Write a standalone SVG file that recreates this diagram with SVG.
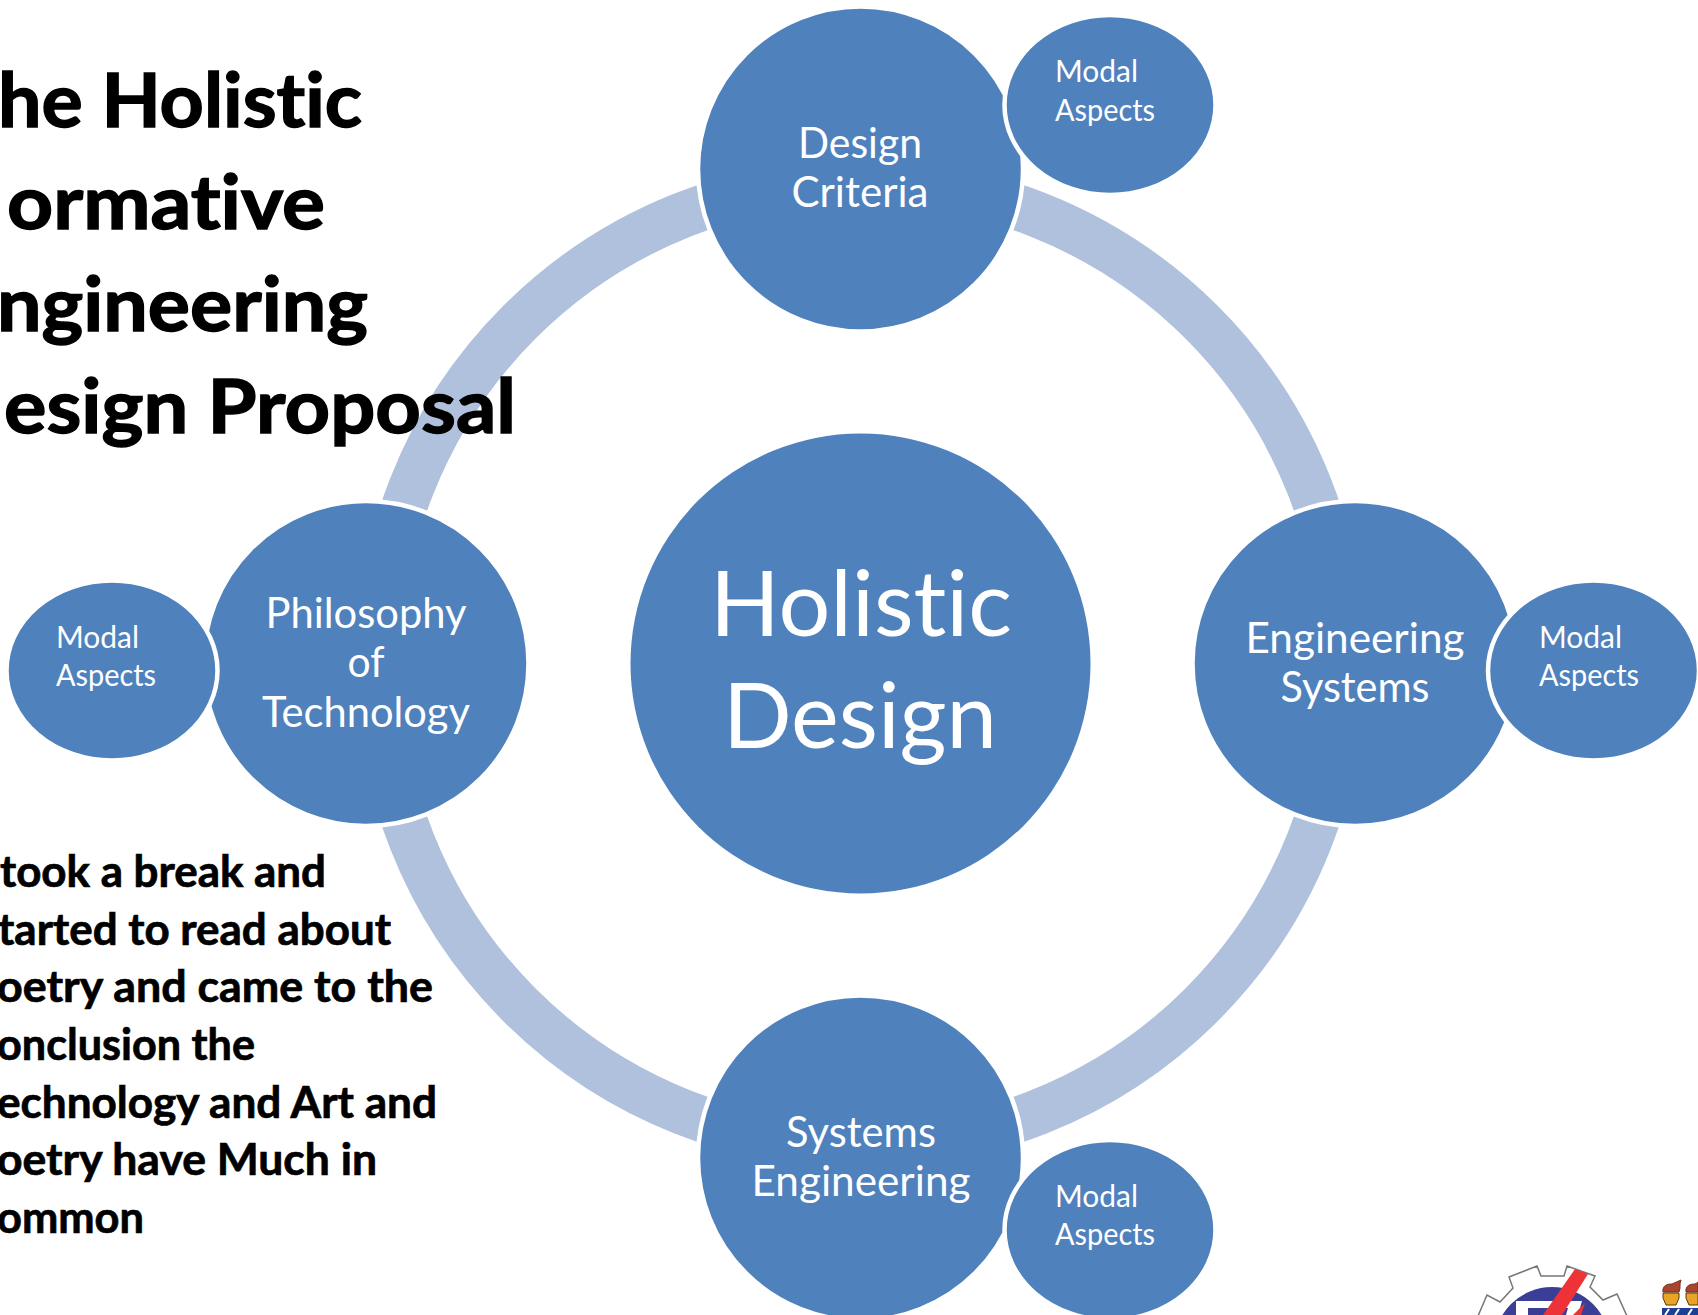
<svg xmlns="http://www.w3.org/2000/svg" width="1698" height="1315" viewBox="0 0 1698 1315">
<style>
text{font-variant-ligatures:none}
.n{fill:#4f81bd;stroke:#fff;stroke-width:4.5}
.t{fill:#fff;font-family:Lato,"Liberation Sans",sans-serif;text-anchor:middle}
.m{font-size:31px;text-anchor:start}
.s{font-size:43px}
.h{fill:#000;font-family:Lato,"Liberation Sans",sans-serif;font-weight:700;stroke:#000}
.h1{font-size:74px;stroke-width:1.4}
.h2{font-size:43px;stroke-width:.7}
.fl{fill:#a8452c;stroke:#7a2e20;stroke-width:1}
.cup{fill:#e9a326;stroke:#5a3a10;stroke-width:1}
</style>
<g id="connectors"><circle cx="860.5" cy="663.5" r="482.5" fill="none" stroke="#b0c1dd" stroke-width="46"/></g>
<g id="center"><circle cx="860.5" cy="663.5" r="230" fill="#4f81bd"/><text class="t" font-size="92" x="861" y="636" textLength="302" lengthAdjust="spacingAndGlyphs">Holistic</text><text class="t" font-size="92" x="860" y="748" textLength="274" lengthAdjust="spacingAndGlyphs">Design</text></g>
<g id="top"><circle class="n" cx="860.5" cy="169" r="162.5"/><text class="t s" x="860" y="158" textLength="124" lengthAdjust="spacingAndGlyphs">Design</text><text class="t s" x="860" y="207" textLength="137" lengthAdjust="spacingAndGlyphs">Criteria</text></g>
<g id="right"><circle class="n" cx="1355" cy="663.5" r="162.5"/><text class="t s" x="1355" y="653" textLength="219" lengthAdjust="spacingAndGlyphs">Engineering</text><text class="t s" x="1355" y="702" textLength="149" lengthAdjust="spacingAndGlyphs">Systems</text></g>
<g id="bottom"><circle class="n" cx="860.5" cy="1158" r="162.5"/><text class="t s" x="861" y="1147" textLength="150" lengthAdjust="spacingAndGlyphs">Systems</text><text class="t s" x="861" y="1196" textLength="219" lengthAdjust="spacingAndGlyphs">Engineering</text></g>
<g id="left"><circle class="n" cx="366" cy="663.5" r="162.5"/><text class="t s" x="366" y="628" textLength="201" lengthAdjust="spacingAndGlyphs">Philosophy</text><text class="t s" x="366" y="677" textLength="37" lengthAdjust="spacingAndGlyphs">of</text><text class="t s" x="366" y="727" textLength="208" lengthAdjust="spacingAndGlyphs">Technology</text></g>
<g id="modal-top"><ellipse class="n" cx="1110" cy="105" rx="105.5" ry="90"/><text class="t m" x="1055" y="82" textLength="83" lengthAdjust="spacingAndGlyphs">Modal</text><text class="t m" x="1055" y="121" textLength="100" lengthAdjust="spacingAndGlyphs">Aspects</text></g>
<g id="modal-right"><ellipse class="n" cx="1593.5" cy="670.5" rx="105.5" ry="90"/><text class="t m" x="1539" y="648" textLength="83" lengthAdjust="spacingAndGlyphs">Modal</text><text class="t m" x="1539" y="686" textLength="100" lengthAdjust="spacingAndGlyphs">Aspects</text></g>
<g id="modal-bottom"><ellipse class="n" cx="1110" cy="1230" rx="105.5" ry="90"/><text class="t m" x="1055" y="1207" textLength="83" lengthAdjust="spacingAndGlyphs">Modal</text><text class="t m" x="1055" y="1245" textLength="100" lengthAdjust="spacingAndGlyphs">Aspects</text></g>
<g id="modal-left"><ellipse class="n" cx="112" cy="670.5" rx="105.5" ry="90"/><text class="t m" x="56" y="648" textLength="83" lengthAdjust="spacingAndGlyphs">Modal</text><text class="t m" x="56" y="686" textLength="100" lengthAdjust="spacingAndGlyphs">Aspects</text></g>
<g id="title"><text class="h h1" x="-2" y="127" textLength="364" lengthAdjust="spacingAndGlyphs">he Holistic</text><text class="h h1" x="7" y="229" textLength="318" lengthAdjust="spacingAndGlyphs">ormative</text><text class="h h1" x="-3" y="331" textLength="371" lengthAdjust="spacingAndGlyphs">ngineering</text><text class="h h1" x="4" y="433" textLength="512" lengthAdjust="spacingAndGlyphs">esign Proposal</text></g>
<g id="note"><text class="h h2" x="0" y="887" textLength="326" lengthAdjust="spacingAndGlyphs">took a break and</text><text class="h h2" x="-2" y="945" textLength="393" lengthAdjust="spacingAndGlyphs">tarted to read about</text><text class="h h2" x="-3" y="1002" textLength="436" lengthAdjust="spacingAndGlyphs">oetry and came to the</text><text class="h h2" x="-3" y="1060" textLength="258" lengthAdjust="spacingAndGlyphs">onclusion the</text><text class="h h2" x="-3" y="1118" textLength="440" lengthAdjust="spacingAndGlyphs">echnology and Art and</text><text class="h h2" x="-3" y="1175" textLength="380" lengthAdjust="spacingAndGlyphs">oetry have Much in</text><text class="h h2" x="-3" y="1233" textLength="147" lengthAdjust="spacingAndGlyphs">ommon</text></g>
<g id="logo-gear">
<path d="M1478 1316 1487 1295 1500 1302 1513 1288 1509 1277 1537 1266 1541 1276 1564 1276 1567 1266 1595 1276 1590 1287 1603 1300 1617 1294 1627 1316Z" fill="#fff" stroke="#777" stroke-width="1.5"/>
<circle cx="1552" cy="1345" r="58" fill="#3a3f95"/>
<path d="M1516 1315V1301H1582L1578 1315H1566L1568 1308H1528V1315Z" fill="#fff"/>
<path d="M1575 1269 1588 1274 1562 1315H1543Z" fill="#ee3338"/>
<path d="M1585 1303 1573 1315H1581Z" fill="#ee3338"/>
</g>
<g id="logo-torches">
<rect x="1662" y="1308" width="36" height="7" fill="#1d3f94"/>
<path d="M1665 1315 1669 1309M1675 1315 1679 1309M1688 1315 1692 1309" stroke="#fff" stroke-width="2"/>
<path class="fl" d="M1663 1292C1662 1285 1668 1284 1672 1284 1675 1283 1678 1281 1681 1280 1679 1284 1681 1288 1679 1292Z"/>
<path class="cup" d="M1663 1293H1679V1298L1676 1305H1666L1663 1298Z"/>
<path class="fl" d="M1686 1292C1685 1285 1691 1284 1695 1284 1696 1283.500 1697 1283 1698 1282V1292Z"/>
<path class="cup" d="M1686 1293H1698V1305H1689L1686 1298Z"/>
</g>
</svg>
